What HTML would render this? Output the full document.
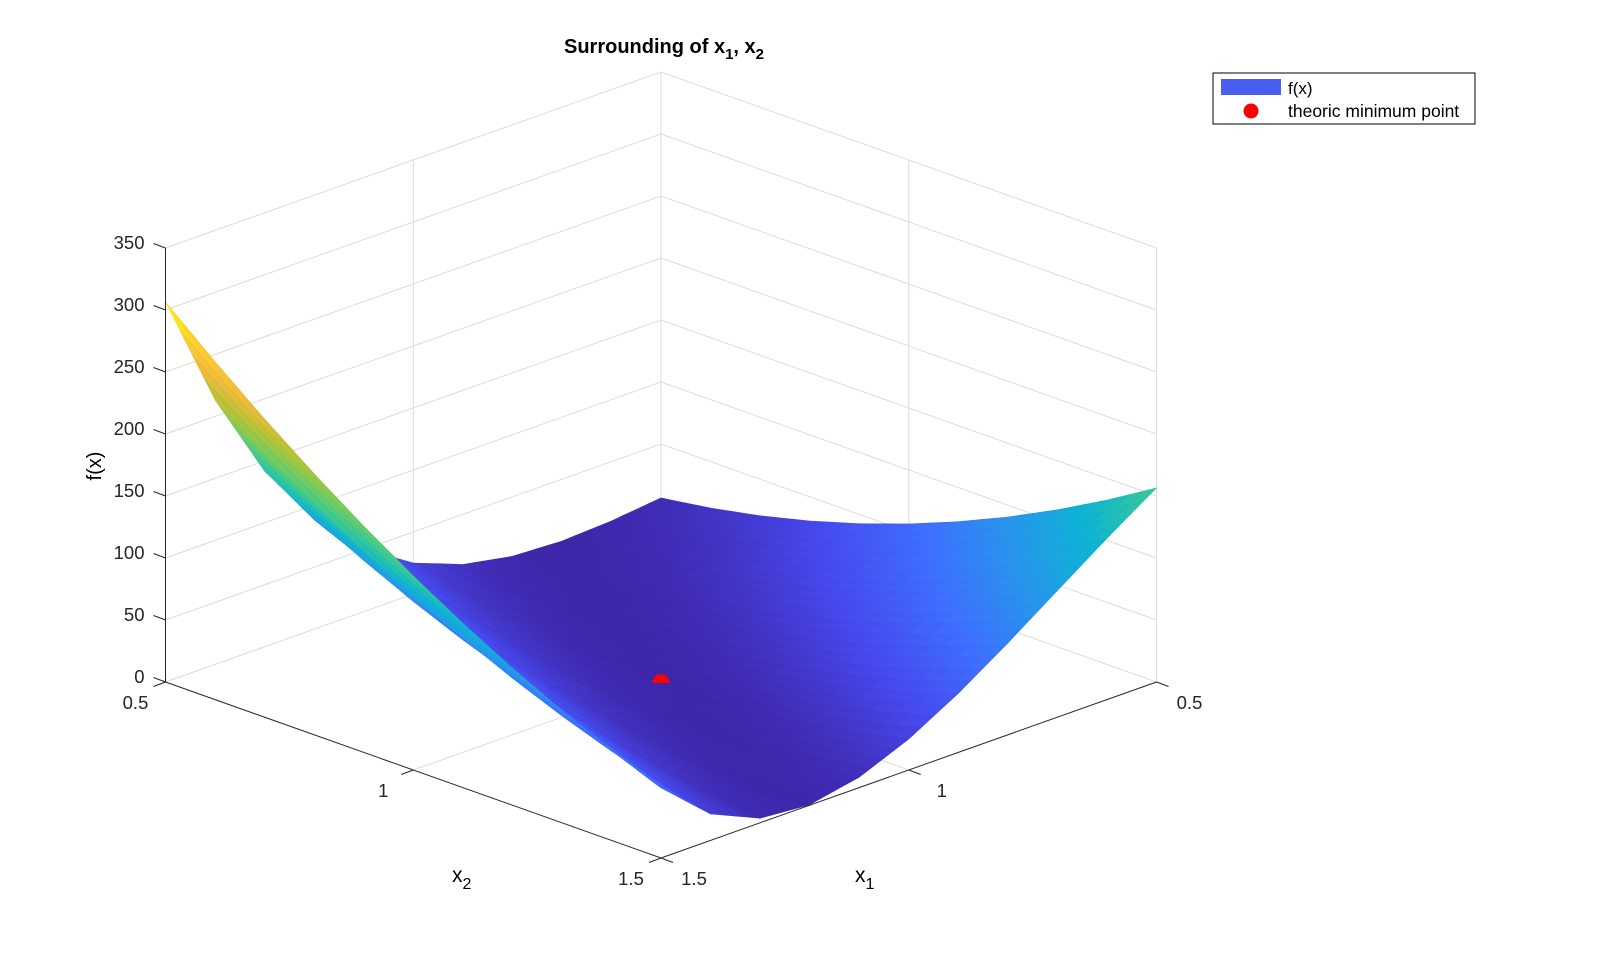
<!DOCTYPE html>
<html><head><meta charset="utf-8"><style>
html,body{margin:0;padding:0;background:#fff;}
svg{display:block;font-family:"Liberation Sans",Arial,sans-serif;}
</style></head><body>
<svg id="chart" width="1598" height="966" viewBox="0 0 1598 966" xmlns="http://www.w3.org/2000/svg">
<g id="grid"></g>
<g id="surf"></g>
<g id="axes"></g>
<text x="664" y="53" text-anchor="middle" font-weight="bold" font-size="20">Surrounding of x<tspan font-size="15" dy="6">1</tspan><tspan dy="-6">, x</tspan><tspan font-size="15" dy="6">2</tspan></text>
<text transform="translate(101,466) rotate(-90)" text-anchor="middle" font-size="20">f(x)</text>
<text x="452" y="882" font-size="21">x<tspan font-size="16" dy="7">2</tspan></text>
<text x="855" y="882" font-size="21">x<tspan font-size="16" dy="7">1</tspan></text>
<g>
<rect x="1213" y="73" width="262" height="51" fill="#fff" stroke="#000" stroke-width="1"/>
<rect x="1221" y="79" width="60" height="16" fill="#4a5ef0"/>
<text x="1288" y="94" font-size="17">f(x)</text>
<circle cx="1251" cy="111" r="7.5" fill="#ff0000"/>
<text x="1288" y="117" font-size="17.5">theoric minimum point</text>
</g>
</svg>
<script>
const x1s=[0.5,0.6,0.7,0.8,0.9,1.0,1.1,1.2,1.3,1.4,1.5];
const x2s=[0.5,0.6,0.7,0.8,0.9,1.0,1.1,1.2,1.3,1.4,1.5];
// Z[i][j]: f at x1s[i], x2s[j]
const Z=[
[6.5,12.5,20.5,30.5,42.5,56.5,72.5,90.5,110.5,132.5,156.5],
[2.12,5.92,11.72,19.52,29.32,41.12,54.92,70.72,88.52,108.32,130.12],
[0.1,1.3,4.5,9.7,16.9,26.1,37.3,50.5,65.7,82.9,102.1],
[2,0.2,0.4,2.6,6.8,13,21.2,31.4,43.6,57.8,74],
[9.62,4.42,1.22,0.02,0.82,3.62,8.42,15.22,24.02,34.82,47.62],
[25,16,9,4,1,0,1,4,9,16,25],
[50.42,37.22,26.02,16.82,9.62,4.42,1.22,0.02,0.82,3.62,8.42],
[88.4,70.6,54.8,41,29.2,19.4,11.6,5.8,2,0.2,0.4],
[141.7,118.9,98.1,79.3,62.5,47.7,34.9,24.1,15.3,8.5,3.7],
[213.32,185.12,158.92,134.72,112.52,92.32,74.12,57.92,43.72,31.52,21.32],
[306.5,272.5,240.5,210.5,182.5,156.5,132.5,110.5,90.5,72.5,56.5]
];
const zTicks=[0,50,100,150,200,250,300,350];
const x1Ticks=[0.5,1,1.5];
const x2Ticks=[0.5,1,1.5];
const minPoint=[1,1,0];

const NS='http://www.w3.org/2000/svg';
const CX=661,CY=682,AX=-495.5,AY=176,BX=495.5,BY=176,ZS=1.24;
function P(x1,x2,z){return [CX+AX*(x1-1)+BX*(x2-1), CY+AY*(x1-1)+BY*(x2-1)-z*ZS];}
function mk(tag,attrs,parent){const e=document.createElementNS(NS,tag);for(const k in attrs)e.setAttribute(k,attrs[k]);parent.appendChild(e);return e;}
const grid=document.getElementById('grid'),surf=document.getElementById('surf'),axes=document.getElementById('axes');
function line(p,q,col,w,parent,name){const e=mk('line',{x1:p[0],y1:p[1],x2:q[0],y2:q[1],stroke:col,'stroke-width':w},parent);

return e;}
const GC='#dcdcdc';
zTicks.forEach(z=>{
 line(P(1.5,0.5,z),P(0.5,0.5,z),GC,1,grid,'grid-left-wall-z');
 line(P(0.5,0.5,z),P(0.5,1.5,z),GC,1,grid,'grid-right-wall-z');
});
const zmax=zTicks[zTicks.length-1];
line(P(1,0.5,0),P(1,0.5,zmax),GC,1,grid,'grid-left-wall-x1');
line(P(0.5,0.5,0),P(0.5,0.5,zmax),GC,1,grid,'grid-back-edge');
line(P(0.5,1,0),P(0.5,1,zmax),GC,1,grid,'grid-right-wall-x2');
line(P(0.5,1.5,0),P(0.5,1.5,zmax),GC,1,grid,'grid-right-edge');
line(P(1,0.5,0),P(1,1.5,0),GC,1,grid,'grid-floor-x1');
line(P(0.5,1,0),P(1.5,1,0),GC,1,grid,'grid-floor-x2');

const PAR=[[62,38,168],[71,71,235],[62,111,255],[39,150,235],[12,180,211],[55,200,151],[113,204,98],[181,195,52],[240,185,60],[252,205,50],[249,251,20]];
let zmn=Infinity,zmx=-Infinity;Z.forEach(r=>r.forEach(v=>{zmn=Math.min(zmn,v);zmx=Math.max(zmx,v);}));
function col(z){let t=(z-zmn)/(zmx-zmn);t=Math.max(0,Math.min(1,t))*10;const i=Math.min(9,Math.floor(t)),f=t-i;
 const c=PAR[i].map((v,k)=>Math.round(v+(PAR[i+1][k]-v)*f));return 'rgb('+c.join(',')+')';}

const S=4,polys=[];
for(let i=0;i<x1s.length-1;i++)for(let j=0;j<x2s.length-1;j++){
 for(let a=0;a<S;a++)for(let b=0;b<S;b++){
  const pts=[],zs=[];
  [[a,b],[a+1,b],[a+1,b+1],[a,b+1]].forEach(([u,v])=>{
   const fu=u/S,fv=v/S;
   const x1=x1s[i]+(x1s[i+1]-x1s[i])*fu, x2=x2s[j]+(x2s[j+1]-x2s[j])*fv;
   const z=Z[i][j]*(1-fu)*(1-fv)+Z[i+1][j]*fu*(1-fv)+Z[i+1][j+1]*fu*fv+Z[i][j+1]*(1-fu)*fv;
   pts.push(P(x1,x2,z));zs.push(z);
  });
  const dx1=x1s[i]+(x1s[i+1]-x1s[i])*(a+0.5)/S, dx2=x2s[j]+(x2s[j+1]-x2s[j])*(b+0.5)/S;
  polys.push({pts,z:(zs[0]+zs[1]+zs[2]+zs[3])/4,d:dx1+dx2});
 }
}
polys.sort((p,q)=>p.d-q.d);
polys.forEach(p=>{const c=col(p.z);
 const e=mk('polygon',{points:p.pts.map(q=>q[0].toFixed(1)+','+q[1].toFixed(1)).join(' '),fill:c,stroke:c,'stroke-width':0.6,'stroke-linejoin':'round'},surf);
 
 
});

const mp=P(minPoint[0],minPoint[1],minPoint[2]);
const dot=mk('path',{d:`M${mp[0]-8.5},${mp[1]+1} A8.5,9 0 0 1 ${mp[0]+8.5},${mp[1]+1} Z`,fill:'#ff0000'},surf);



line(P(1.5,0.5,0),P(1.5,0.5,zmax),'#262626',1,axes,'z-axis-line');
line(P(1.5,0.5,0),P(1.5,1.5,0),'#262626',1,axes,'x2-axis-line');
line(P(1.5,1.5,0),P(0.5,1.5,0),'#262626',1,axes,'x1-axis-line');
function txt(x,y,s,anchor,name){const e=mk('text',{x:x,y:y,'font-size':18.5,'text-anchor':anchor,fill:'#262626'},axes);e.textContent=s;
 
 }
zTicks.forEach(z=>{const p=P(1.5,0.5,z);line(p,[p[0]-12,p[1]-4.5],'#262626',1,axes,'z-tick');txt(p[0]-21,p[1]+1,String(z),'end','z-tick-label');});
x2Ticks.forEach(v=>{const p=P(1.5,v,0);line(p,[p[0]-12,p[1]+4.5],'#262626',1,axes,'x2-tick');txt(p[0]-30,p[1]+27,String(v),'middle','x2-tick-label');});
x1Ticks.forEach(v=>{const p=P(v,1.5,0);line(p,[p[0]+12,p[1]+4.5],'#262626',1,axes,'x1-tick');txt(p[0]+33,p[1]+27,String(v),'middle','x1-tick-label');});
</script>
</body></html>
